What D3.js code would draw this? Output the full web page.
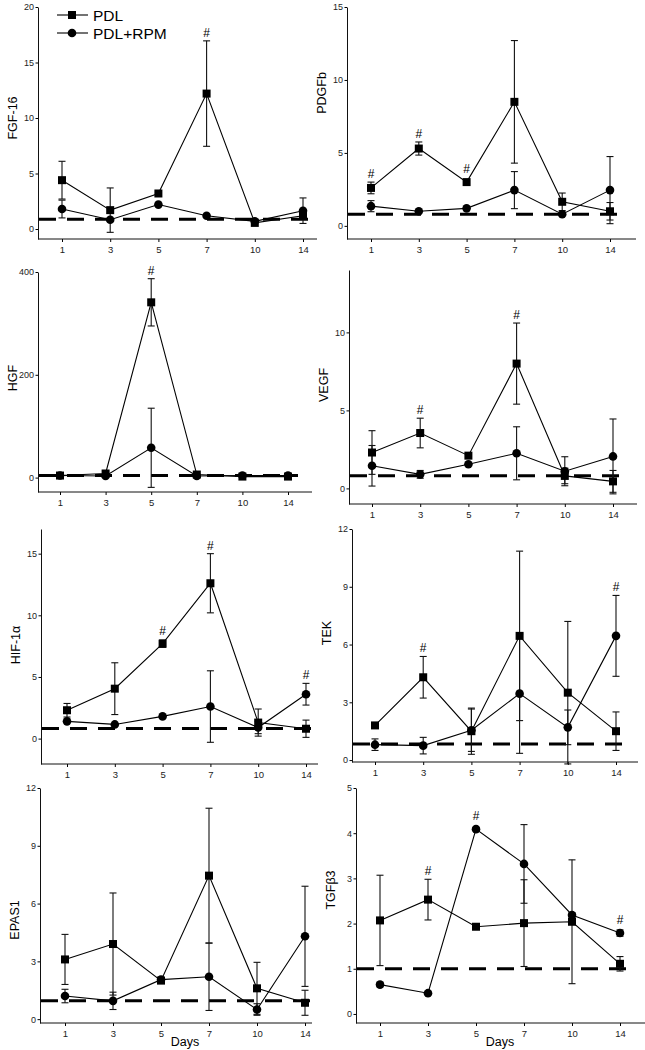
<!DOCTYPE html>
<html>
<head>
<meta charset="utf-8">
<script src="https://cdn.jsdelivr.net/npm/d3@7"></script>
<style>
  body { margin: 0; background: #fff; }
  svg { display: block; font-family: "Liberation Sans", Arial, sans-serif; }
  .tick text { fill: #222; }
</style>
</head>
<body>
<script>
//days on the x axis
var days = ["1", "3", "5", "7", "10", "14"];

//values (mean and error per day)
var fgf16Pdl = [4.4, 1.7, 3.2, 12.2, 0.55, 1.2];
var fgf16PdlErr = [1.7, 2.0, 0, 4.75, 0, 0];
var fgf16Rpm = [1.8, 0.84, 2.2, 1.2, 0.69, 1.65];
var fgf16RpmErr = [0.8, 0, 0, 0, 0, 1.15];

var pdgfbPdl = [2.6, 5.3, 3.0, 8.5, 1.65, 1.0];
var pdgfbPdlErr = [0.4, 0.45, 0, 4.2, 0.6, 0.6];
var pdgfbRpm = [1.35, 1.0, 1.2, 2.45, 0.8, 2.45];
var pdgfbRpmErr = [0.38, 0, 0, 1.27, 0, 2.3];

var hgfPdl = [4, 8, 341, 6, 2, 2];
var hgfPdlErr = [0, 0, 46, 0, 0, 0];
var hgfRpm = [4, 3, 58, 3, 4, 4];
var hgfRpmErr = [0, 0, 77, 0, 0, 0];

var vegfPdl = [2.3, 3.55, 2.1, 8.0, 0.8, 0.45];
var vegfPdlErr = [1.4, 0.95, 0, 2.6, 0.5, 0.7];
var vegfRpm = [1.45, 0.9, 1.55, 2.25, 1.1, 2.05];
var vegfRpmErr = [1.3, 0.25, 0, 1.7, 0.93, 2.4];

var hifPdl = [2.3, 4.05, 7.7, 12.6, 1.3, 0.8];
var hifPdlErr = [0.55, 2.1, 0.3, 2.4, 1.1, 0.7];
var hifRpm = [1.4, 1.15, 1.8, 2.6, 0.9, 3.6];
var hifRpmErr = [0, 0, 0, 2.9, 0.5, 0.88];

var tekPdl = [1.8, 4.3, 1.5, 6.45, 3.5, 1.5];
var tekPdlErr = [0, 1.08, 1.2, 4.4, 3.7, 1.0];
var tekRpm = [0.8, 0.75, 1.55, 3.45, 1.7, 6.45];
var tekRpmErr = [0.3, 0.43, 1.1, 3.1, 0.9, 2.1];

var epasPdl = [3.1, 3.9, 2.0, 7.45, 1.6, 0.85];
var epasPdlErr = [1.3, 2.65, 0, 3.5, 1.35, 0.65];
var epasRpm = [1.2, 0.95, 2.05, 2.2, 0.5, 4.3];
var epasRpmErr = [0.35, 0.45, 0, 1.75, 0.3, 2.6];

var tgfPdl = [2.07, 2.53, 1.93, 2.01, 2.04, 1.11];
var tgfPdlErr = [1.0, 0.45, 0.05, 0.96, 1.37, 0.16];
var tgfRpm = [0.65, 0.46, 4.09, 3.32, 2.19, 1.79];
var tgfRpmErr = [0.05, 0.03, 0.02, 0.87, 0.05, 0.07];

//significance marks (#)
var fgf16Sig = ["7"];
var pdgfbSig = ["1", "3", "5"];
var hgfSig = ["5"];
var vegfSig = ["3", "7"];
var hifSig = ["5", "7", "14"];
var tekSig = ["3", "14"];
var epasSig = [];
var tgfSig = ["3", "5", "14"];

//y tick labels
var fgf16Ticks = [0, 5, 10, 15, 20];
var pdgfbTicks = [0, 5, 10, 15];
var hgfTicks = [0, 200, 400];
var vegfTicks = [0, 5, 10];
var hifTicks = [0, 5, 10, 15];
var tekTicks = [0, 3, 6, 9, 12];
var epasTicks = [0, 3, 6, 9, 12];
var tgfTicks = [0, 1, 2, 3, 4, 5];

//level of the dashed control line, as drawn
var baseline = [0.87, 0.8, 4, 0.81, 0.82, 0.83, 0.95, 1.0];

var width = 645;
var height = 1050;

var svg = d3.select("body").append("svg")
    .attr("width", width)
    .attr("height", height);

//one entry per panel: data + layout box
var panels = [
    {name: "FGF-16", pdl: fgf16Pdl, pdlErr: fgf16PdlErr, rpm: fgf16Rpm, rpmErr: fgf16RpmErr, sig: fgf16Sig, ticks: fgf16Ticks,
     domain: [-0.9, 20], axisX: 38, axisEnd: 317, xFirst: 62, xLast: 303, yTop: 7, yBottom: 239, labelY: 118},
    {name: "PDGFb", pdl: pdgfbPdl, pdlErr: pdgfbPdlErr, rpm: pdgfbRpm, rpmErr: pdgfbRpmErr, sig: pdgfbSig, ticks: pdgfbTicks,
     domain: [-0.9, 15], axisX: 347, axisEnd: 636, xFirst: 371, xLast: 610, yTop: 7, yBottom: 239, labelY: 93},
    {name: "HGF", pdl: hgfPdl, pdlErr: hgfPdlErr, rpm: hgfRpm, rpmErr: hgfRpmErr, sig: hgfSig, ticks: hgfTicks,
     domain: [-28, 400], axisX: 38, axisEnd: 312, xFirst: 60, xLast: 288, yTop: 272, yBottom: 492, labelY: 378},
    {name: "VEGF", pdl: vegfPdl, pdlErr: vegfPdlErr, rpm: vegfRpm, rpmErr: vegfRpmErr, sig: vegfSig, ticks: vegfTicks,
     domain: [-1, 14], axisX: 349, axisEnd: 637, xFirst: 372, xLast: 613, yTop: 270, yBottom: 504, labelY: 385},
    {name: "HIF-1α", pdl: hifPdl, pdlErr: hifPdlErr, rpm: hifRpm, rpmErr: hifRpmErr, sig: hifSig, ticks: hifTicks,
     domain: [-2.06, 17], axisX: 41, axisEnd: 318, xFirst: 67, xLast: 306, yTop: 529, yBottom: 764, labelY: 645},
    {name: "TEK", pdl: tekPdl, pdlErr: tekPdlErr, rpm: tekRpm, rpmErr: tekRpmErr, sig: tekSig, ticks: tekTicks,
     domain: [-0.1, 12], axisX: 352, axisEnd: 638, xFirst: 375, xLast: 616, yTop: 529, yBottom: 762, labelY: 633},
    {name: "EPAS1", pdl: epasPdl, pdlErr: epasPdlErr, rpm: epasRpm, rpmErr: epasRpmErr, sig: epasSig, ticks: epasTicks,
     domain: [-0.2, 12], axisX: 40, axisEnd: 312, xFirst: 65, xLast: 305, yTop: 788, yBottom: 1023, labelY: 920, days: true},
    {name: "TGFβ3", pdl: tgfPdl, pdlErr: tgfPdlErr, rpm: tgfRpm, rpmErr: tgfRpmErr, sig: tgfSig, ticks: tgfTicks,
     domain: [-0.2, 5], axisX: 356, axisEnd: 645, xFirst: 380, xLast: 620, yTop: 788, yBottom: 1023, labelY: 890, days: true}
];

var squareSize = 8;
var circleR = 4.3;
var capHalf = 3.5;

panels.forEach(function(p, pi){
    var g = svg.append("g").attr("class", "panel");

    var x = d3.scalePoint().domain(days).range([p.xFirst, p.xLast]);
    var y = d3.scaleLinear().domain(p.domain).range([p.yBottom, p.yTop]);

    //y axis
    var yAxis = g.append("g")
        .attr("transform", "translate(" + p.axisX + ",0)")
        .call(d3.axisLeft(y).tickValues(p.ticks).tickFormat(d3.format("d"))
            .tickSize(2.5).tickSizeOuter(0).tickPadding(1.5));
    yAxis.selectAll("text").style("font-size", "9px");
    yAxis.select(".domain").attr("stroke", "#111");

    //x axis (line drawn to the panel's right end)
    var xAxis = g.append("g")
        .attr("transform", "translate(0," + p.yBottom + ")")
        .call(d3.axisBottom(x).tickSize(3).tickPadding(4));
    xAxis.select(".domain").remove();
    xAxis.selectAll("text").style("font-size", "9.5px");
    xAxis.append("line")
        .attr("x1", p.axisX).attr("x2", p.axisEnd)
        .attr("stroke", "#111");

    //y label
    g.append("text")
        .attr("transform", "translate(" + (p.axisX - 21) + "," + p.labelY + ") rotate(-90)")
        .attr("text-anchor", "middle")
        .style("font-size", "12.5px")
        .text(p.name);

    if(p.days){
        g.append("text")
            .attr("x", (p.xFirst + p.xLast) / 2)
            .attr("y", p.yBottom + 23)
            .attr("text-anchor", "middle")
            .style("font-size", "12.5px")
            .text("Days");
    }

    //dashed control line
    g.append("line")
        .attr("x1", p.axisX + 1)
        .attr("x2", p.xLast + 10)
        .attr("y1", y(baseline[pi]))
        .attr("y2", y(baseline[pi]))
        .attr("stroke", "#000")
        .attr("stroke-width", 3)
        .attr("stroke-dasharray", "17,11");

    var series = [
        {mean: p.pdl, err: p.pdlErr, shape: "square"},
        {mean: p.rpm, err: p.rpmErr, shape: "circle"}
    ];

    var line = d3.line()
        .x(function(d){ return x(d.day); })
        .y(function(d){ return y(d.v); });

    series.forEach(function(s){
        var pts = days.map(function(day, i){ return {day: day, v: s.mean[i], e: s.err[i]}; });

        g.append("path")
            .datum(pts)
            .attr("d", line)
            .attr("fill", "none")
            .attr("stroke", "#000")
            .attr("stroke-width", 1.1);

        //error bars
        var bars = g.selectAll(null)
            .data(pts.filter(function(d){ return d.e > 0; }))
            .enter().append("g")
            .attr("stroke", "#111")
            .attr("stroke-width", 1.1);
        bars.append("line")
            .attr("x1", function(d){ return x(d.day); })
            .attr("x2", function(d){ return x(d.day); })
            .attr("y1", function(d){ return y(d.v - d.e); })
            .attr("y2", function(d){ return y(d.v + d.e); });
        [-1, 1].forEach(function(sign){
            bars.append("line")
                .attr("x1", function(d){ return x(d.day) - capHalf; })
                .attr("x2", function(d){ return x(d.day) + capHalf; })
                .attr("y1", function(d){ return y(d.v + sign * d.e); })
                .attr("y2", function(d){ return y(d.v + sign * d.e); });
        });
        s.pts = pts;
    });

    //markers on top
    series.forEach(function(s){
        if(s.shape == "square"){
            g.selectAll(null).data(s.pts).enter().append("rect")
                .attr("x", function(d){ return x(d.day) - squareSize / 2; })
                .attr("y", function(d){ return y(d.v) - squareSize / 2; })
                .attr("width", squareSize)
                .attr("height", squareSize)
                .attr("fill", "#000");
        }else{
            g.selectAll(null).data(s.pts).enter().append("circle")
                .attr("cx", function(d){ return x(d.day); })
                .attr("cy", function(d){ return y(d.v); })
                .attr("r", circleR)
                .attr("fill", "#000");
        }
    });

    //# marks above the highest element of the day
    g.selectAll(null).data(p.sig).enter().append("text")
        .attr("x", function(day){ return x(day); })
        .attr("y", function(day){
            var i = days.indexOf(day);
            var top = d3.min(series, function(s){
                return Math.min(y(s.mean[i] + s.err[i]), y(s.mean[i]) - 5);
            });
            return top - 4;
        })
        .attr("text-anchor", "middle")
        .style("font-size", "12px")
        .text("#");
});

//legend
var legendItems = [
    {label: "PDL", shape: "square", y: 15},
    {label: "PDL+RPM", shape: "circle", y: 33}
];
var legend = svg.append("g").attr("class", "legend");
legendItems.forEach(function(d){
    legend.append("line")
        .attr("x1", 57).attr("x2", 88)
        .attr("y1", d.y).attr("y2", d.y)
        .attr("stroke", "#000").attr("stroke-width", 1.1);
    if(d.shape == "square"){
        legend.append("rect")
            .attr("x", 72 - squareSize / 2).attr("y", d.y - squareSize / 2)
            .attr("width", squareSize).attr("height", squareSize);
    }else{
        legend.append("circle").attr("cx", 72).attr("cy", d.y).attr("r", circleR);
    }
    legend.append("text")
        .attr("x", 93)
        .attr("y", d.y + 5.5)
        .style("font-size", "15.5px")
        .text(d.label);
});
</script>
</body>
</html>
